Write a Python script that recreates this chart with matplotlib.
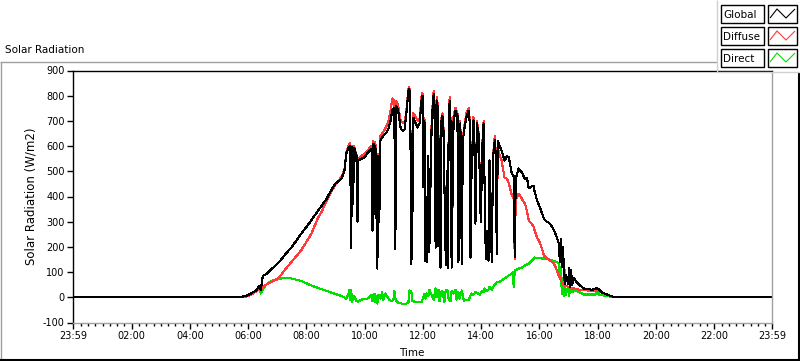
import matplotlib
matplotlib.use('Agg')
import matplotlib.pyplot as plt
from matplotlib.lines import Line2D
from matplotlib.patches import Rectangle
import numpy as np

# ---------------- data (time in minutes after midnight) ----------------
t_min = [0, 341, 355, 366, 378, 382, 386, 390, 397, 401, 407, 421, 428, 438, 448, 469, 490, 504,
         510, 521, 531, 539, 552,
         558, 562, 566, 570, 572, 574, 576, 578, 583, 585, 587, 593, 599, 605, 609, 614, 616, 618,
         620, 622, 624, 626, 628, 630, 632, 636, 640, 645, 649, 653, 657, 661, 663, 665, 669, 674,
         678, 682, 686, 690, 692, 694, 696, 698, 700, 705, 709, 713, 717, 719, 721, 723, 725, 727,
         729, 731, 733, 735, 738, 742, 744, 746, 748, 750, 752, 754, 756, 758, 760, 762, 767, 769,
         771, 773, 775, 777, 779, 781, 783, 787, 791, 793, 795, 797, 800, 802, 806, 810, 814, 816,
         818, 820, 824, 826, 828, 831, 835, 839, 843, 845, 847, 849, 851, 853, 855, 857, 859, 862,
         864, 868, 870, 872, 874, 876, 882, 888, 893, 897, 903, 907, 909, 911, 917, 924, 930, 934,
         938, 944, 948, 950, 955, 961, 965, 969, 975, 979, 986, 990, 996, 1000, 1002, 1004, 1006,
         1008, 1010, 1012, 1014, 1019, 1021, 1023, 1025, 1027, 1031, 1037, 1043, 1052, 1068, 1074,
         1078, 1083, 1089, 1099, 1109, 1116, 1439]

global_rad = [0, 0, 5, 15, 30, 45, 30, 85, 92, 98, 110, 135, 150, 175, 195, 252, 305, 345,
              360, 390, 425, 450, 470,
              500, 570, 590, 602, 195, 595, 370, 594, 560, 300, 543, 550, 555, 570, 580, 590, 265, 610,
              330, 600, 350, 114, 560, 300, 620, 635, 645, 655, 670, 700, 745, 753, 190, 760, 741, 670,
              661, 665, 733, 820, 828, 700, 133, 277, 713, 690, 674, 690, 780, 800, 436, 700, 145, 400,
              141, 560, 180, 400, 700, 808, 700, 197, 781, 760, 202, 630, 118, 700, 720, 680, 130, 500,
              118, 700, 781, 680, 118, 400, 702, 740, 720, 140, 350, 690, 133, 620, 680, 720, 741, 700,
              157, 500, 702, 600, 292, 690, 640, 300, 640, 690, 430, 200, 150, 265, 145, 543, 300, 140,
              550, 626, 560, 173, 620, 610, 582, 543, 560, 555, 490, 480, 160, 471, 511, 495, 470, 475,
              432, 440, 443, 420, 384, 356, 335, 312, 300, 297, 280, 265, 237, 213, 140, 230, 120,
              200, 133, 54, 90, 54, 118, 40, 110, 50, 75, 59, 47, 35, 30, 32,
              38, 30, 19, 11, 4, 0, 0]

diffuse_rad = [0, 0, 3, 10, 25, 35, 30, 40, 50, 55, 60, 75, 90, 115, 138, 186, 252, 317,
               335, 380, 420, 445, 478,
               505, 575, 600, 614, 195, 600, 375, 600, 565, 300, 550, 560, 570, 580, 590, 600, 270, 620,
               335, 615, 350, 114, 570, 300, 640, 650, 661, 680, 700, 740, 789, 780, 190, 780, 760, 700,
               694, 690, 745, 828, 835, 710, 133, 277, 730, 715, 700, 710, 795, 810, 440, 710, 145, 400,
               141, 560, 180, 400, 720, 820, 710, 197, 795, 770, 202, 640, 118, 710, 730, 690, 130, 500,
               118, 710, 795, 690, 118, 400, 720, 753, 730, 140, 350, 700, 133, 630, 690, 735, 750, 710,
               157, 510, 715, 610, 292, 700, 650, 300, 650, 700, 430, 200, 150, 265, 145, 543, 300, 140,
               560, 640, 570, 173, 600, 575, 543, 475, 470, 451, 404, 390, 150, 384, 411, 390, 372, 344,
               304, 292, 280, 265, 237, 217, 193, 166, 154, 150, 140, 133, 106, 85, 79, 70, 60,
               55, 50, 47, 45, 42, 40, 38, 36, 35, 35, 32, 30, 28, 26, 26,
               26, 24, 19, 11, 3, 0, 0]

direct_t = [0, 341, 355, 366, 378, 382, 386, 390, 397, 407, 428, 448, 469, 490, 510, 537, 552,
            558, 562, 566, 568, 570, 572, 574, 578, 583, 587, 593, 599, 605, 609, 614, 616, 620, 622,
            624, 626, 628, 632, 636, 638, 643, 647, 651, 655, 659, 661, 663, 667, 676, 686, 690, 692,
            696, 698, 707, 717, 723, 725, 727, 731, 733, 738, 742, 746, 748, 752, 754, 758, 760, 764,
            767, 771, 773, 777, 779, 783, 787, 789, 793, 795, 800, 804, 810, 814, 820, 824, 828, 833,
            837, 841, 845, 847, 851, 855, 857, 862, 866, 872, 876, 882, 888, 897, 903, 905, 907, 909,
            917, 924, 930, 938, 944, 950, 955, 965, 975, 986, 996, 1000, 1002, 1004, 1006, 1008, 1010,
            1012, 1014, 1019, 1021, 1023, 1027, 1031, 1037, 1043, 1052, 1068, 1076, 1078, 1083, 1099,
            1114, 1439]

direct_rad = [0, 0, 3, 10, 30, 35, 15, 30, 50, 65, 75, 75, 65, 47, 33, 15, 5,
              0, -5, 10, 27, -10, 30, -17, 5, -15, -17, -10, -5, -5, 0, 10, -15, 15, -20,
              5, -25, 10, -5, 20, -10, 15, 0, -10, -15, -10, 25, -5, -20, -25, -25, -20, 27,
              25, -15, -20, -20, 15, -5, 15, 5, 30, 10, -10, 35, 0, 30, -15, 20, 25, -20,
              30, 25, -10, -15, 25, 15, 30, -10, 20, -5, 27, -13, -10, -10, 15, 10, 20, 15,
              10, 25, 20, 35, 25, 30, 40, 30, 47, 59, 60, 67, 75, 87, 94, 100, 40, 106,
              114, 118, 126, 133, 145, 158, 155, 154, 154, 146, 140, 133, 79, 120, 15, 75, 7,
              110, 10, 40, 5, 30, 20, 28, 25, 20, 11, 11, 11, 20, 11, 5,
              0, 0]

x_tick_min = [-1, 120, 240, 360, 480, 600, 720, 840, 960, 1080, 1200, 1320, 1439]
x_tick_labels = ['23:59', '02:00', '04:00', '06:00', '08:00', '10:00', '12:00',
                 '14:00', '16:00', '18:00', '20:00', '22:00', '23:59']
y_ticks = [-100, 0, 100, 200, 300, 400, 500, 600, 700, 800, 900]
series_names = ['Global', 'Diffuse', 'Direct']
series_colors = ['#000000', '#ff3a3a', '#00e000']

# ---------------- figure ----------------
plt.rcParams['font.family'] = ['DejaVu Sans']
W, H = 800, 361
fig = plt.figure(figsize=(W / 100, H / 100), dpi=100)
fig.patch.set_facecolor('white')

def fx(px):
    return px / W

def fy(py):
    return 1 - py / H

ax = fig.add_axes([fx(73), fy(322.5), fx(772) - fx(73), fy(70.5) - fy(322.5)])
ax.plot(direct_t, direct_rad, color=series_colors[2], lw=0.8, antialiased=False)
ax.plot(t_min, diffuse_rad, color=series_colors[1], lw=0.8, antialiased=False)
ax.plot(t_min, global_rad, color=series_colors[0], lw=0.8, antialiased=False)

ax.set_xlim(-1, 1439)
ax.set_ylim(-100, 900)
ax.set_xticks(x_tick_min)
ax.set_xticklabels(x_tick_labels)
ax.set_xticks(np.arange(15, 1439, 15), minor=True)
ax.set_yticks(y_ticks)
ax.set_yticklabels([str(v) for v in y_ticks])
ax.tick_params(axis='both', which='major', direction='out', length=4, width=1,
               labelsize=7, colors='black', pad=2)
ax.tick_params(axis='x', which='minor', direction='out', length=2.5, width=1, colors='black')
ax.tick_params(axis='y', which='minor', left=False)
for side in ['left', 'top']:
    ax.spines[side].set_color('black')
    ax.spines[side].set_linewidth(1)
for side in ['right', 'bottom']:
    ax.spines[side].set_color('#a0a0a0')
    ax.spines[side].set_linewidth(1)

fig.text(fx(31), fy(196), 'Solar Radiation (W/m2)', rotation=90, ha='center', va='center',
         fontsize=8.5)
fig.text(fx(412), fy(353), 'Time', ha='center', va='center', fontsize=7.5)
fig.text(fx(5), fy(50), 'Solar Radiation', ha='left', va='center', fontsize=7.5)

# frame lines
def fline(xs, ys, color, lw=1.0):
    fig.add_artist(Line2D([fx(v) for v in xs], [fy(v) for v in ys], transform=fig.transFigure,
                          color=color, lw=lw, solid_capstyle='butt'))

fline([0, 717], [62, 62], '#a0a0a0')
fline([1, 1], [62, 359], '#a0a0a0')
fline([0, 800], [359.5, 359.5], '#000000', 1.5)
fline([798.5, 798.5], [72, 360], '#000000', 1.5)
fline([717, 717], [0, 72], '#d0d0d0')
fline([717, 800], [72, 72], '#d0d0d0')

# legend
for i, (name, col) in enumerate(zip(series_names, series_colors)):
    y0 = 5 + 22 * i
    y1 = y0 + 18
    fig.add_artist(Rectangle((fx(721), fy(y1)), fx(764) - fx(721), fy(y0) - fy(y1),
                             transform=fig.transFigure, fill=False, edgecolor='black', lw=1))
    fig.add_artist(Rectangle((fx(768), fy(y1)), fx(797) - fx(768), fy(y0) - fy(y1),
                             transform=fig.transFigure, fill=False, edgecolor='black', lw=1))
    fig.text(fx(723.5), fy((y0 + y1) / 2 + 0.5), name, ha='left', va='center', fontsize=7.5)
    fline([770, 777, 786, 795], [y0 + 13, y0 + 4, y0 + 13, y0 + 4], col, 0.8)

fig.savefig('out.png', dpi=100)
